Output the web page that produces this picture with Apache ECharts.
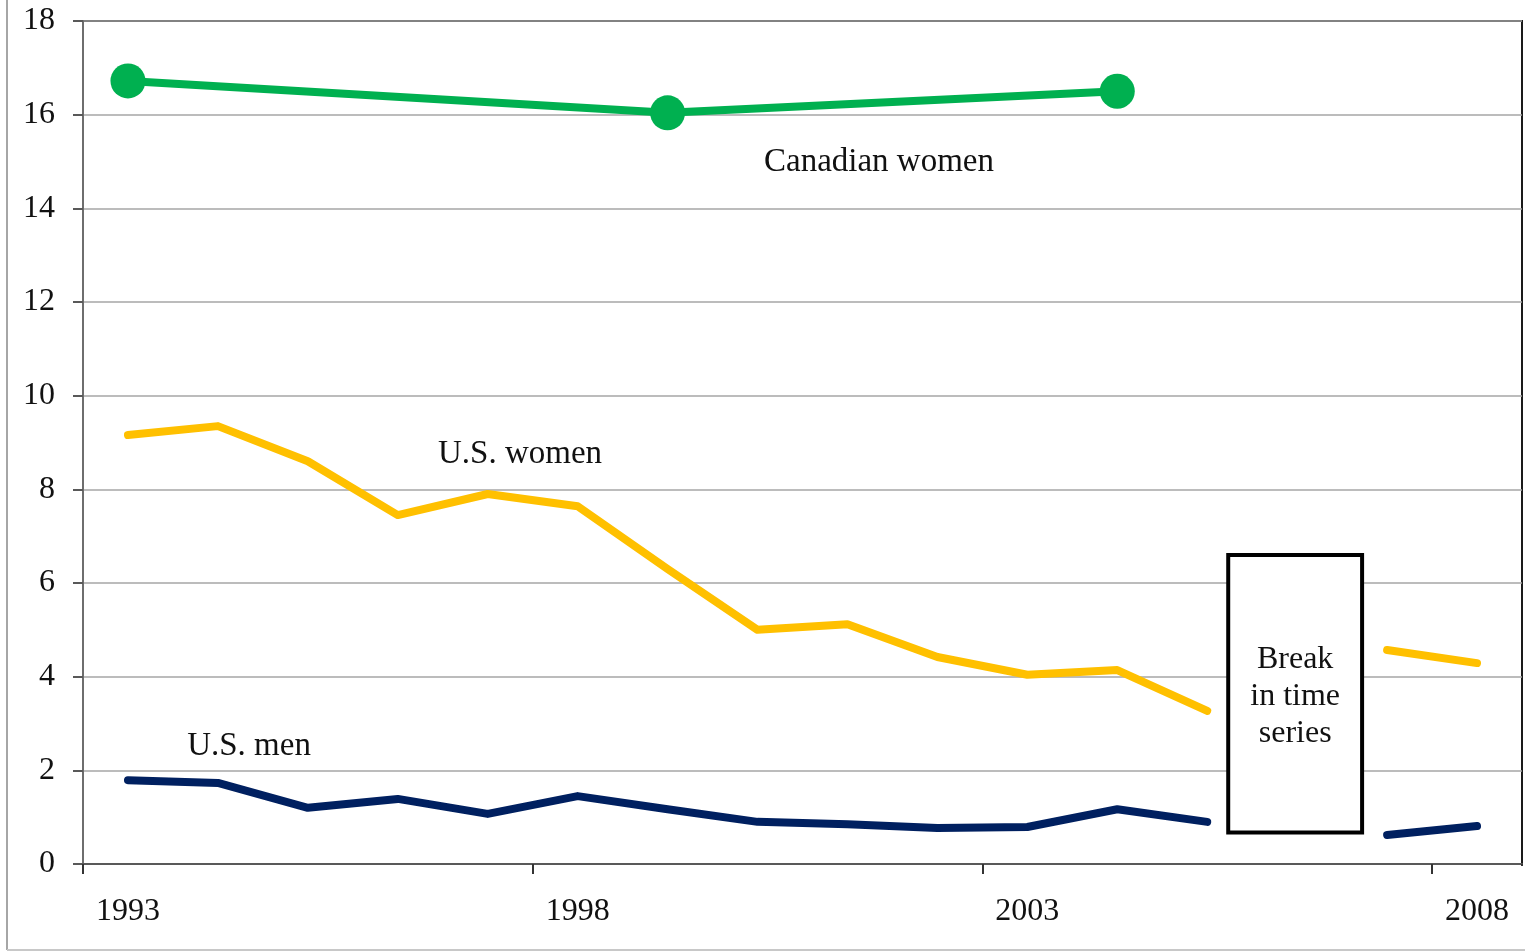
<!DOCTYPE html>
<html>
<head>
<meta charset="utf-8">
<script src="https://cdn.jsdelivr.net/npm/echarts@6/dist/echarts.min.js"></script>
<style>
  html, body { margin: 0; padding: 0; background: #fff; }
  #chart { width: 1525px; height: 952px; }
</style>
</head>
<body>
<div id="chart"></div>
<script>
// data
const years = ['1993', '1994', '1995', '1996', '1997', '1998', '1999', '2000',
  '2001', '2002', '2003', '2004', '2005', '2006', '2007', '2008']
const usWomen = [9.16, 9.35, 8.6, 7.45, 7.9, 7.64, 6.3, 5.0, 5.12, 4.42, 4.04, 4.14, 3.27, null, 4.57, 4.29]
const usMen = [1.79, 1.73, 1.2, 1.39, 1.07, 1.45, 1.17, 0.9, 0.85, 0.77, 0.79, 1.17, 0.9, null, 0.62, 0.81]
const canadianWomen = [16.72, null, null, null, null, null, 16.04, null, null, null, null, 16.5, null, null, null, null]
const yTicks = { min: 0, max: 18, interval: 2 }

const font = '"Liberation Serif", "DejaVu Serif", serif'
const chart = echarts.init(document.getElementById('chart'))

const option = {
  animation: false,
  backgroundColor: '#fff',
  grid: {
    left: 83,
    right: 3,
    top: 21,
    bottom: 88,
    show: true,
    borderColor: '#1a1a1a',
    borderWidth: 2
  },
  xAxis: {
    type: 'category',
    data: years,
    boundaryGap: true,
    axisLine: { lineStyle: { color: '#595959', width: 2 } },
    axisTick: { show: true, interval: 4, length: 10, lineStyle: { color: '#333', width: 2 } },
    axisLabel: { interval: 4, margin: 32, color: '#111', fontFamily: font, fontSize: 32 },
    splitLine: { show: false }
  },
  yAxis: {
    type: 'value',
    min: yTicks.min,
    max: yTicks.max,
    interval: yTicks.interval,
    axisLine: { show: true, lineStyle: { color: '#6e6e6e', width: 2 } },
    axisTick: { show: true, length: 10, lineStyle: { color: '#595959', width: 2 } },
    axisLabel: { margin: 28, color: '#111', fontFamily: font, fontSize: 32 },
    splitLine: { lineStyle: { color: '#a6a6a6', width: 1.5 } }
  },
  series: [
    {
      name: 'U.S. women',
      type: 'line',
      data: usWomen,
      connectNulls: false,
      symbol: 'none',
      lineStyle: { color: '#ffc000', width: 8, cap: 'round', join: 'round' }
    },
    {
      name: 'U.S. men',
      type: 'line',
      data: usMen,
      connectNulls: false,
      symbol: 'none',
      lineStyle: { color: '#002060', width: 8, cap: 'round', join: 'round' }
    },
    {
      name: 'Canadian women',
      type: 'line',
      data: canadianWomen,
      connectNulls: true,
      symbol: 'circle',
      symbolSize: 35,
      itemStyle: { color: '#00b050' },
      lineStyle: { color: '#00b050', width: 8 }
    }
  ]
}
chart.setOption(option)

// 断层说明框：位置由坐标轴换算
const boxLeft = chart.convertToPixel({ gridIndex: 0 }, ['2005', 0])[0] + 21
const boxRight = chart.convertToPixel({ gridIndex: 0 }, ['2007', 0])[0] - 25
const boxTop = chart.convertToPixel({ gridIndex: 0 }, [0, 6.6])[1]
const boxBottom = chart.convertToPixel({ gridIndex: 0 }, [0, 0.67])[1]

chart.setOption({
  graphic: [
    // 外框
    { type: 'line', shape: { x1: 7, y1: 0, x2: 7, y2: 950 }, style: { stroke: '#a6a6a6', lineWidth: 2 } },
    { type: 'line', shape: { x1: 7, y1: 950, x2: 1525, y2: 950 }, style: { stroke: '#c8c8c8', lineWidth: 2 } },
    // 盖住轴末端多出的刻度
    { type: 'rect', shape: { x: 1517, y: 866, width: 8, height: 14 }, style: { fill: '#fff' }, z: 100 },
    {
      type: 'rect',
      shape: { x: boxLeft, y: boxTop, width: boxRight - boxLeft, height: boxBottom - boxTop },
      style: { fill: '#fff', stroke: '#000', lineWidth: 4 },
      z: 100
    },
    {
      type: 'text',
      x: (boxLeft + boxRight) / 2,
      y: (boxTop + boxBottom) / 2 + 3,
      z: 101,
      style: {
        text: 'Break\nin time\nseries',
        align: 'center',
        verticalAlign: 'middle',
        fontFamily: font,
        fontSize: 32,
        lineHeight: 37,
        fill: '#111'
      }
    },
    {
      type: 'text', x: 879, y: 162, z: 101,
      style: { text: 'Canadian women', align: 'center', verticalAlign: 'middle', fontFamily: font, fontSize: 33, fill: '#111' }
    },
    {
      type: 'text', x: 520, y: 454, z: 101,
      style: { text: 'U.S. women', align: 'center', verticalAlign: 'middle', fontFamily: font, fontSize: 33, fill: '#111' }
    },
    {
      type: 'text', x: 249, y: 746, z: 101,
      style: { text: 'U.S. men', align: 'center', verticalAlign: 'middle', fontFamily: font, fontSize: 33, fill: '#111' }
    }
  ]
})
</script>
</body>
</html>
